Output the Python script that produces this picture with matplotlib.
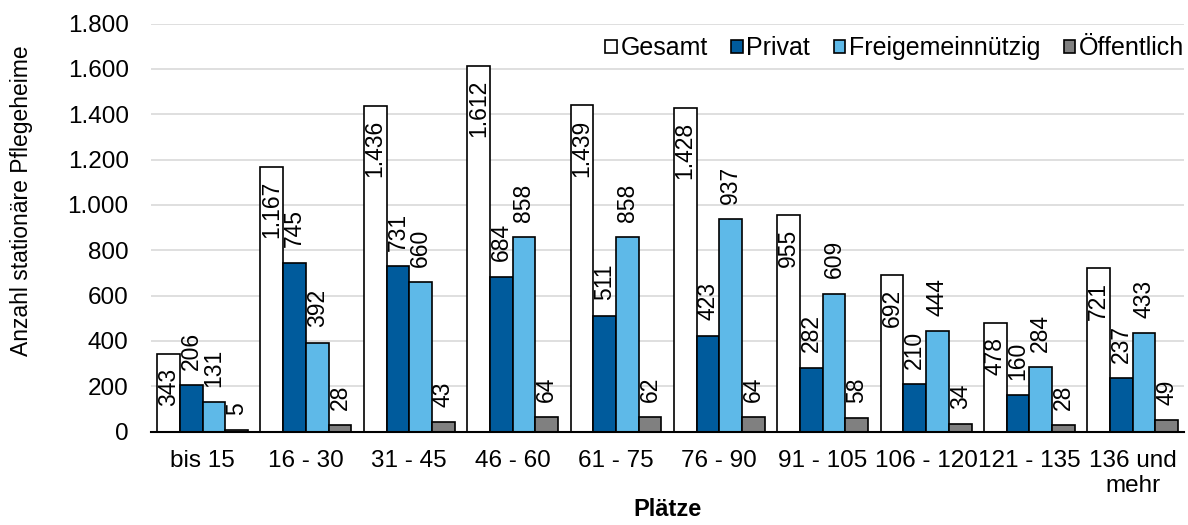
import numpy as np
import matplotlib.pyplot as plt
from matplotlib.ticker import FuncFormatter

plt.rcParams['font.family'] = ['Liberation Sans', 'DejaVu Sans']

categories = ['bis 15', '16 - 30', '31 - 45', '46 - 60', '61 - 75', '76 - 90',
              '91 - 105', '106 - 120', '121 - 135', '136 und\nmehr']
gesamt = [343, 1167, 1436, 1612, 1439, 1428, 955, 692, 478, 721]
privat = [206, 745, 731, 684, 511, 423, 282, 210, 160, 237]
freigemein = [131, 392, 660, 858, 858, 937, 609, 444, 284, 433]
oeffentlich = [5, 28, 43, 64, 62, 64, 58, 34, 28, 49]

series = [('Gesamt', gesamt, '#ffffff'),
          ('Privat', privat, '#005b9c'),
          ('Freigemeinnützig', freigemein, '#5eb9e8'),
          ('Öffentlich', oeffentlich, '#808080')]

def de_fmt(v):
    return f'{int(v):,}'.replace(',', '.')

fig, ax = plt.subplots(figsize=(11.88, 5.25), dpi=100)
fig.subplots_adjust(left=0.127, right=0.997, top=0.955, bottom=0.178)

x = np.arange(len(categories))
w = 0.22
for i, (name, vals, col) in enumerate(series):
    pos = x + (i - 1.5) * w
    ax.bar(pos, vals, w, color=col, edgecolor='black', linewidth=1.2,
           label=name, zorder=3)
    for p, v in zip(pos, vals):
        # Gesamt: label inside the bar end, others: above the bar
        if i == 0:
            ax.annotate(de_fmt(v), (p, v), xytext=(0, -10), textcoords='offset points',
                        rotation=90, ha='center', va='top', fontsize=16.5, zorder=4)
        else:
            ax.annotate(de_fmt(v), (p, v), xytext=(0, 11), textcoords='offset points',
                        rotation=90, ha='center', va='bottom', fontsize=16.5, zorder=4)

ax.set_ylim(0, 1800)
ax.set_yticks(range(0, 1801, 200))
ax.yaxis.set_major_formatter(FuncFormatter(lambda v, _: de_fmt(v)))
ax.set_xlim(-0.5, len(categories) - 0.5)
ax.set_xticks(x)
ax.set_xticklabels(categories)
ax.tick_params(axis='both', length=0, labelsize=17.5)
ax.tick_params(axis='y', pad=16)
ax.tick_params(axis='x', pad=13)
ax.grid(axis='y', color='#d9d9d9', linewidth=1.2, zorder=0)
for s in ['top', 'right', 'left']:
    ax.spines[s].set_visible(False)
ax.spines['bottom'].set_linewidth(1.5)
ax.spines['bottom'].set_zorder(5)

ax.set_ylabel('Anzahl stationäre Pflegeheime', fontsize=16.5)
ax.yaxis.set_label_coords(-0.114, 0.565)
ax.set_xlabel('Plätze', fontsize=17, fontweight='bold', labelpad=1)

ax.legend(loc='upper right', ncol=4, frameon=False, fontsize=18,
          handlelength=0.45, handleheight=0.45, handletextpad=0.15,
          columnspacing=0.95, borderaxespad=0.1, bbox_to_anchor=(1.012, 1.0))

plt.savefig('out.png')
